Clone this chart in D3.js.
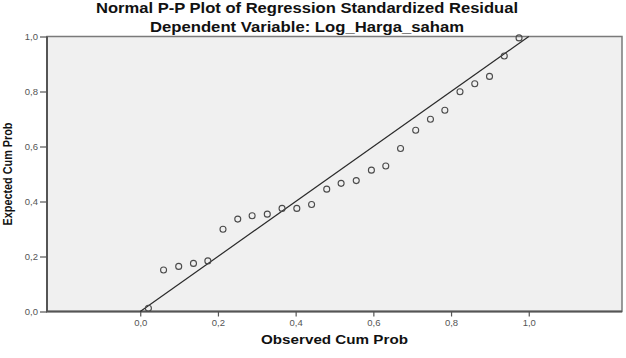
<!DOCTYPE html>
<html>
<head>
<meta charset="utf-8">
<script src="https://cdn.jsdelivr.net/npm/d3@7"></script>
<style>
  body { margin: 0; background: #fff; }
  svg { display: block; font-family: "Liberation Sans", Arial, sans-serif; }
</style>
</head>
<body>
<div id="chart"></div>
<script>
var width = 626;
var height = 358;

// observed vs expected cumulative probabilities
var observed = [0.021, 0.060, 0.099, 0.137, 0.174, 0.213, 0.251, 0.288, 0.327, 0.365, 0.403, 0.441, 0.480,
                0.517, 0.556, 0.595, 0.632, 0.670, 0.709, 0.747, 0.784, 0.823, 0.861, 0.899, 0.937, 0.975];
var expected = [0.012, 0.151, 0.164, 0.175, 0.184, 0.299, 0.336, 0.348, 0.354, 0.375, 0.375, 0.389, 0.445,
                0.466, 0.476, 0.514, 0.529, 0.593, 0.659, 0.699, 0.732, 0.799, 0.828, 0.855, 0.929, 0.995];
var refLine = [[0, 0], [1, 1]];
var tickValues = [0, 0.2, 0.4, 0.6, 0.8, 1.0];
var titleText = "Normal P-P Plot of Regression Standardized Residual";
var subtitleText = "Dependent Variable: Log_Harga_saham";
var xLabel = "Observed Cum Prob";
var yLabel = "Expected Cum Prob";

//plot frame (names avoid window.top)
var plotLeft = 47, plotRight = 622, plotTop = 36.5, plotBottom = 311.5;

var x = d3.scaleLinear().domain([-0.24, 1.24]).range([plotLeft, plotRight]);
var y = d3.scaleLinear().domain([0, 1]).range([plotBottom, plotTop]);
var fmt = function(d) { return d3.format(".1f")(d).replace(".", ","); };

var svg = d3.select("#chart").append("svg")
  .attr("width", width)
  .attr("height", height);

svg.append("rect")
  .attr("x", plotLeft).attr("y", plotTop)
  .attr("width", plotRight - plotLeft).attr("height", plotBottom - plotTop)
  .style("fill", "#f0f0f0")
  .style("stroke", "#7a7a7a")
  .style("stroke-width", 1.5);

// darker left and bottom edges
svg.append("path")
  .attr("d", "M" + plotLeft + "," + plotTop + "V" + plotBottom + "H" + plotRight)
  .style("fill", "none")
  .style("stroke", "#555")
  .style("stroke-width", 2);

var xAxis = svg.append("g")
  .attr("transform", "translate(0," + plotBottom + ")")
  .call(d3.axisBottom(x).tickValues(tickValues).tickFormat(fmt).tickSize(5).tickPadding(3));

var yAxis = svg.append("g")
  .attr("transform", "translate(" + plotLeft + ",0)")
  .call(d3.axisLeft(y).tickValues(tickValues).tickFormat(fmt).tickSize(7).tickPadding(2));

[xAxis, yAxis].forEach(function(g) {
  g.select(".domain").remove();
  g.selectAll(".tick line").style("stroke", "#555").style("stroke-width", 1.2);
  g.selectAll(".tick text")
    .style("font-size", "9.5px")
    .style("fill", "#555")
    .style("font-family", "Liberation Sans, Arial, sans-serif");
});

svg.append("path")
  .attr("d", d3.line().x(function(d) { return x(d[0]); }).y(function(d) { return y(d[1]); })(refLine))
  .style("fill", "none")
  .style("stroke", "#2a2a2a")
  .style("stroke-width", 1.2);

svg.append("g").selectAll("circle")
  .data(observed.map(function(d, i) { return [d, expected[i]]; }))
  .enter().append("circle")
  .attr("cx", function(d) { return x(d[0]); })
  .attr("cy", function(d) { return y(d[1]); })
  .attr("r", 3)
  .style("fill", "none")
  .style("stroke", "#4a4a4a")
  .style("stroke-width", 1.1);

// titles
svg.append("text")
  .attr("x", 307).attr("y", 13)
  .attr("text-anchor", "middle")
  .attr("textLength", 422).attr("lengthAdjust", "spacingAndGlyphs")
  .style("font-size", "14px").style("font-weight", "bold").style("fill", "#111")
  .text(titleText);

svg.append("text")
  .attr("x", 307).attr("y", 32)
  .attr("text-anchor", "middle")
  .attr("textLength", 314).attr("lengthAdjust", "spacingAndGlyphs")
  .style("font-size", "14px").style("font-weight", "bold").style("fill", "#111")
  .text(subtitleText);

svg.append("text")
  .attr("x", (plotLeft + plotRight) / 2).attr("y", 344)
  .attr("text-anchor", "middle")
  .attr("textLength", 147).attr("lengthAdjust", "spacingAndGlyphs")
  .style("font-size", "12.5px").style("font-weight", "bold").style("fill", "#111")
  .text(xLabel);

svg.append("text")
  .attr("transform", "translate(12," + ((plotTop + plotBottom) / 2) + ") rotate(-90)")
  .attr("text-anchor", "middle")
  .attr("textLength", 103).attr("lengthAdjust", "spacingAndGlyphs")
  .style("font-size", "13px").style("font-weight", "bold").style("fill", "#111")
  .text(yLabel);
</script>
</body>
</html>
